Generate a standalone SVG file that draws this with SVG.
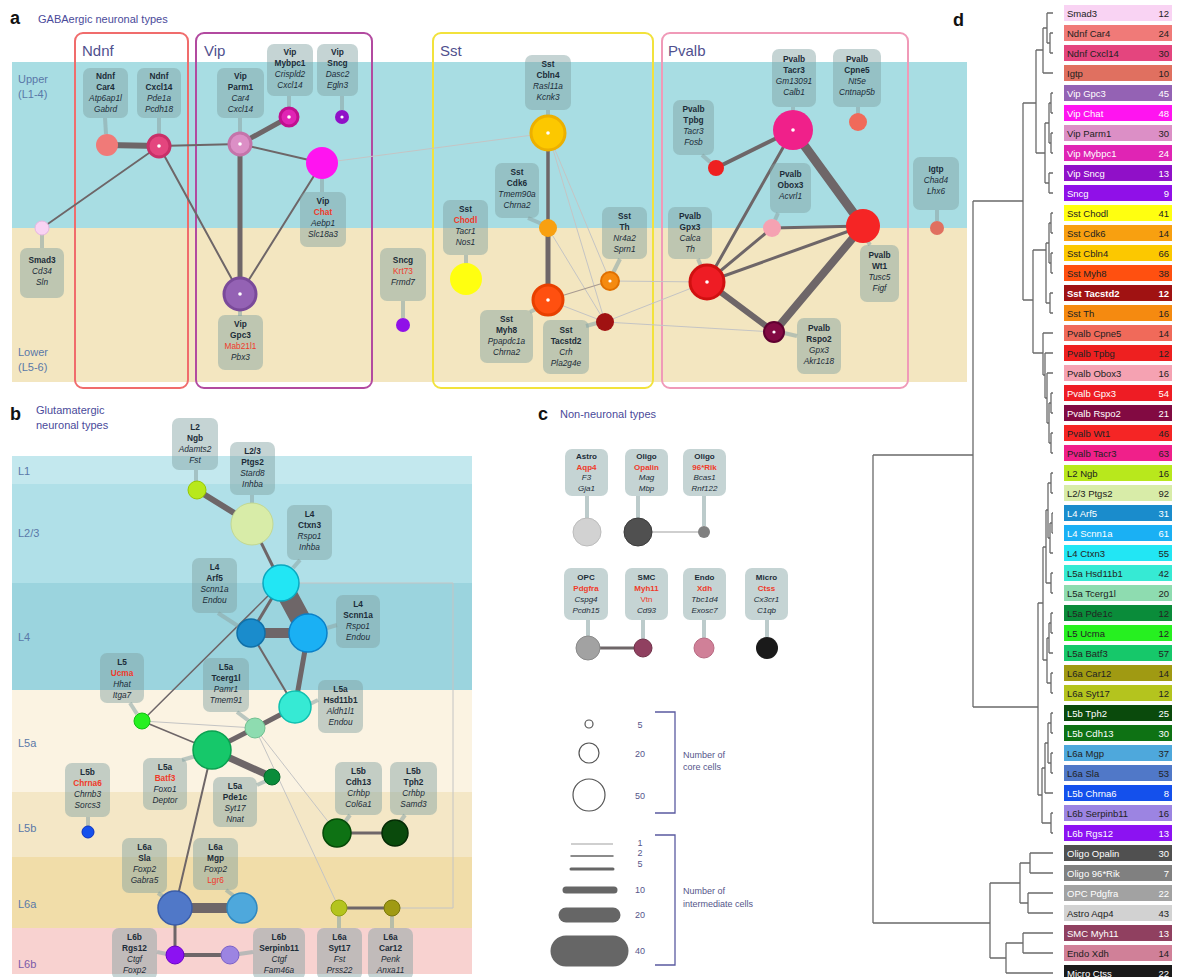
<svg xmlns="http://www.w3.org/2000/svg" width="1186" height="977" viewBox="0 0 1186 977">
<style>
text{font-family:"Liberation Sans",Arial,sans-serif}
.pl{font-size:18px;font-weight:bold;fill:#111}
.ti{font-size:11px;fill:#4a4a9a}
.gt{font-size:15px;fill:#50508e}
.ly{font-size:11px;fill:#5a78a8}
.lb{fill:#7f9fa0;fill-opacity:.45}
.st{stroke:#8fa8a8;stroke-opacity:.6;stroke-width:4;fill:none}
.t{font-size:8.3px;fill:#1c2c38;text-anchor:middle}
.tc{font-size:8px}
.b{font-weight:bold}
.i{font-style:italic}
.r{fill:#f03a2a;font-style:normal}
.e{stroke:#6e6668;fill:none;stroke-linecap:round}
.f{stroke:#c4c4c4;stroke-width:1;fill:none}
.box{fill:none;stroke-width:2}
.dot{fill:#fff}
.dl{stroke:#6a6a6a;stroke-width:1.3;fill:none}
.bt{font-size:9.5px}
.bn{font-size:9.5px;text-anchor:end}
.w{fill:#fff}
.k{fill:#222}
.lg{font-size:9px;fill:#55558a}
.br{stroke:#5a5aa0;stroke-width:1.3;fill:none}
</style>

<!-- ===== Panel a ===== -->
<g id="panel-a-bg">
<rect x="12" y="62" width="955" height="166" fill="#a8dde3"/>
<rect x="12" y="228" width="955" height="154" fill="#f3e6c0"/>
<text class="pl" x="10" y="24">a</text>
<text class="ti" x="38" y="23">GABAergic neuronal types</text>
<text class="ly" x="18" y="83">Upper</text>
<text class="ly" x="18" y="98">(L1-4)</text>
<text class="ly" x="18" y="356">Lower</text>
<text class="ly" x="18" y="371">(L5-6)</text>
</g>
<g id="group-boxes">
<rect class="box" x="75" y="33" width="113" height="355" rx="8" stroke="#f06c6c"/>
<text class="gt" x="82" y="56">Ndnf</text>
<rect class="box" x="196" y="33" width="176" height="355" rx="8" stroke="#b24aa0"/>
<text class="gt" x="204" y="56">Vip</text>
<rect class="box" x="433" y="33" width="220" height="355" rx="8" stroke="#f2e23c"/>
<text class="gt" x="440" y="56">Sst</text>
<rect class="box" x="662" y="33" width="246" height="355" rx="8" stroke="#f09ab8"/>
<text class="gt" x="668" y="56">Pvalb</text>
</g>

<!-- ===== Panel b background ===== -->
<g id="panel-b-bg">
<rect x="12" y="456" width="460" height="28" fill="#c3e8ee"/>
<rect x="12" y="484" width="460" height="99" fill="#b0e0e8"/>
<rect x="12" y="583" width="460" height="107" fill="#9bd4de"/>
<rect x="12" y="690" width="460" height="102" fill="#fbf3e2"/>
<rect x="12" y="792" width="460" height="65" fill="#f4e7c6"/>
<rect x="12" y="857" width="460" height="71" fill="#f1dda9"/>
<rect x="12" y="928" width="460" height="46" fill="#f8d2d0"/>
<text class="pl" x="10" y="420">b</text>
<text class="ti" x="36" y="414">Glutamatergic</text>
<text class="ti" x="36" y="429">neuronal types</text>
<text class="ly" x="18" y="475">L1</text>
<text class="ly" x="18" y="537">L2/3</text>
<text class="ly" x="18" y="641">L4</text>
<text class="ly" x="18" y="747">L5a</text>
<text class="ly" x="18" y="832">L5b</text>
<text class="ly" x="18" y="908">L6a</text>
<text class="ly" x="18" y="968" style="fill:#7a5aa8">L6b</text>
</g>

<!-- ===== Connectors ===== -->
<g id="connectors">
<line class="f" x1="322" y1="163" x2="548" y2="133"/>
<line class="f" x1="548" y1="133" x2="605" y2="322"/>
<line class="f" x1="548" y1="133" x2="610" y2="281"/>
<line class="f" x1="548" y1="228" x2="605" y2="322"/>
<line class="f" x1="548" y1="300" x2="605" y2="322"/>
<line class="f" x1="610" y1="281" x2="707" y2="282"/>
<line class="f" x1="605" y1="322" x2="707" y2="282"/>
<line class="f" x1="605" y1="322" x2="774" y2="332"/>
<line class="e" x1="548" y1="300" x2="610" y2="281" stroke-width="1.2" style="stroke:#a89a90"/>
<line class="e" x1="107" y1="145" x2="159" y2="146" stroke-width="6"/>
<line class="e" x1="159" y1="146" x2="240" y2="144" stroke-width="2"/>
<line class="e" x1="159" y1="146" x2="42" y2="228" stroke-width="1.8"/>
<line class="e" x1="159" y1="146" x2="240" y2="294" stroke-width="2"/>
<line class="e" x1="240" y1="144" x2="289" y2="117" stroke-width="5"/>
<line class="e" x1="240" y1="144" x2="322" y2="163" stroke-width="2"/>
<line class="e" x1="240" y1="144" x2="240" y2="294" stroke-width="5"/>
<line class="e" x1="322" y1="163" x2="240" y2="294" stroke-width="2"/>
<line class="e" x1="548" y1="133" x2="548" y2="228" stroke-width="3.5"/>
<line class="e" x1="548" y1="228" x2="548" y2="300" stroke-width="5"/>
<line class="e" x1="793" y1="130" x2="716" y2="168" stroke-width="4"/>
<line class="e" x1="793" y1="130" x2="863" y2="226" stroke-width="9"/>
<line class="e" x1="793" y1="130" x2="707" y2="282" stroke-width="3"/>
<line class="e" x1="772" y1="228" x2="863" y2="226" stroke-width="3"/>
<line class="e" x1="772" y1="228" x2="707" y2="282" stroke-width="3"/>
<line class="e" x1="707" y1="282" x2="863" y2="226" stroke-width="3"/>
<line class="e" x1="707" y1="282" x2="774" y2="332" stroke-width="6"/>
<line class="e" x1="863" y1="226" x2="774" y2="332" stroke-width="8"/>
<line class="f" x1="142" y1="721" x2="255" y2="728"/>
<line class="f" x1="255" y1="728" x2="337" y2="833"/>
<line class="f" x1="255" y1="728" x2="339" y2="908"/>
<line class="f" x1="212" y1="750" x2="295" y2="707"/>
<polyline class="f" points="299,583 453,583 453,908 392,908"/>
<line class="e" x1="197" y1="490" x2="252" y2="524" stroke-width="6"/>
<line class="e" x1="252" y1="524" x2="281" y2="583" stroke-width="3"/>
<line class="e" x1="281" y1="583" x2="308" y2="633" stroke-width="20"/>
<line class="e" x1="281" y1="583" x2="251" y2="633" stroke-width="3"/>
<line class="e" x1="251" y1="633" x2="308" y2="633" stroke-width="10"/>
<line class="e" x1="281" y1="583" x2="142" y2="721" stroke-width="1.5"/>
<line class="e" x1="251" y1="633" x2="295" y2="707" stroke-width="2"/>
<line class="e" x1="308" y1="633" x2="295" y2="707" stroke-width="5"/>
<line class="e" x1="295" y1="707" x2="255" y2="728" stroke-width="5"/>
<line class="e" x1="255" y1="728" x2="212" y2="750" stroke-width="5"/>
<line class="e" x1="212" y1="750" x2="272" y2="777" stroke-width="7"/>
<line class="e" x1="142" y1="721" x2="212" y2="750" stroke-width="1.5"/>
<line class="e" x1="212" y1="750" x2="175" y2="908" stroke-width="2"/>
<line class="e" x1="175" y1="908" x2="242" y2="908" stroke-width="10"/>
<line class="e" x1="175" y1="908" x2="175" y2="955" stroke-width="3"/>
<line class="e" x1="175" y1="955" x2="230" y2="955" stroke-width="4"/>
<line class="e" x1="337" y1="833" x2="395" y2="833" stroke-width="3"/>
<line class="e" x1="339" y1="908" x2="392" y2="908" stroke-width="3"/>
<line class="e" x1="638" y1="532" x2="704" y2="532" stroke-width="1.2" style="stroke:#a0a0a0"/>
<line class="e" x1="588" y1="648" x2="643" y2="648" stroke-width="3"/>
</g>

<!-- ===== Panel a nodes ===== -->
<g id="smad3">
<line class="st" x1="42" y1="234" x2="42" y2="248"/>
<rect class="lb" x="20" y="248" width="44" height="50" rx="7"/>
<text class="t" x="42" y="263"><tspan class="b">Smad3</tspan><tspan class="i" x="42" dy="11">Cd34</tspan><tspan class="i" x="42" dy="11">Sln</tspan></text>
<circle cx="42" cy="228" r="7" fill="#f9d3f3" stroke="#e6b6e0"/>
</g>
<g id="ndnf-car4">
<line class="st" x1="105" y1="118" x2="106" y2="134"/>
<rect class="lb" x="83" y="68" width="45" height="50" rx="7"/>
<text class="t" x="105.5" y="79"><tspan class="b">Ndnf</tspan><tspan class="b" x="105.5" dy="11">Car4</tspan><tspan class="i" x="105.5" dy="11">Atp6ap1l</tspan><tspan class="i" x="105.5" dy="11">Gabrd</tspan></text>
<circle cx="107" cy="145" r="11" fill="#f07a78"/>
</g>
<g id="ndnf-cxcl14">
<line class="st" x1="159" y1="118" x2="159" y2="134"/>
<rect class="lb" x="137" y="68" width="44" height="50" rx="7"/>
<text class="t" x="159" y="79"><tspan class="b">Ndnf</tspan><tspan class="b" x="159" dy="11">Cxcl14</tspan><tspan class="i" x="159" dy="11">Pde1a</tspan><tspan class="i" x="159" dy="11">Pcdh18</tspan></text>
<circle cx="159" cy="146" r="11" fill="#e4457e" stroke="#c83068" stroke-width="3"/>
<circle class="dot" cx="159" cy="146" r="1.8"/>
</g>
<g id="vip-parm1">
<line class="st" x1="240" y1="118" x2="240" y2="132"/>
<rect class="lb" x="217" y="68" width="47" height="50" rx="7"/>
<text class="t" x="240.5" y="79"><tspan class="b">Vip</tspan><tspan class="b" x="240.5" dy="11">Parm1</tspan><tspan class="i" x="240.5" dy="11">Car4</tspan><tspan class="i" x="240.5" dy="11">Cxcl14</tspan></text>
<circle cx="240" cy="144" r="11" fill="#dc8fc6" stroke="#c474aa" stroke-width="3"/>
<circle class="dot" cx="240" cy="144" r="1.8"/>
</g>
<g id="vip-mybpc1">
<line class="st" x1="289" y1="96" x2="289" y2="108"/>
<rect class="lb" x="267" y="44" width="46" height="52" rx="7"/>
<text class="t" x="290" y="55"><tspan class="b">Vip</tspan><tspan class="b" x="290" dy="11">Mybpc1</tspan><tspan class="i" x="290" dy="11">Crispld2</tspan><tspan class="i" x="290" dy="11">Cxcl14</tspan></text>
<circle cx="289" cy="117" r="9" fill="#e024b4" stroke="#c0108f" stroke-width="3"/>
<circle class="dot" cx="289" cy="117" r="1.8"/>
</g>
<g id="vip-sncg">
<line class="st" x1="342" y1="96" x2="342" y2="110"/>
<rect class="lb" x="317" y="44" width="41" height="52" rx="7"/>
<text class="t" x="337.5" y="55"><tspan class="b">Vip</tspan><tspan class="b" x="337.5" dy="11">Sncg</tspan><tspan class="i" x="337.5" dy="11">Dasc2</tspan><tspan class="i" x="337.5" dy="11">Egln3</tspan></text>
<circle cx="342" cy="117" r="7" fill="#9010c8"/>
<circle class="dot" cx="342" cy="117" r="1.6"/>
</g>
<g id="vip-chat">
<line class="st" x1="322" y1="179" x2="322" y2="192"/>
<rect class="lb" x="300" y="192" width="46" height="55" rx="7"/>
<text class="t" x="323" y="204"><tspan class="b">Vip</tspan><tspan class="r b" x="323" dy="11">Chat</tspan><tspan class="i" x="323" dy="11">Aebp1</tspan><tspan class="i" x="323" dy="11">Slc18a3</tspan></text>
<circle cx="322" cy="163" r="16" fill="#ff14f0"/>
</g>
<g id="vip-gpc3">
<line class="st" x1="240" y1="310" x2="240" y2="316"/>
<rect class="lb" x="218" y="315" width="45" height="55" rx="7"/>
<text class="t" x="240.5" y="327"><tspan class="b">Vip</tspan><tspan class="b" x="240.5" dy="11">Gpc3</tspan><tspan class="r i" x="240.5" dy="11">Mab21l1</tspan><tspan class="i" x="240.5" dy="11">Pbx3</tspan></text>
<circle cx="240" cy="294" r="16" fill="#9462b4" stroke="#7a4a9a" stroke-width="3"/>
<circle class="dot" cx="240" cy="294" r="1.8"/>
</g>
<g id="sncg">
<line class="st" x1="403" y1="301" x2="403" y2="318"/>
<rect class="lb" x="380" y="248" width="46" height="53" rx="7"/>
<text class="t" x="403" y="263"><tspan class="b">Sncg</tspan><tspan class="r i" x="403" dy="11">Krt73</tspan><tspan class="i" x="403" dy="11">Frmd7</tspan></text>
<circle cx="403" cy="325" r="7" fill="#9010e8"/>
</g>
<g id="sst-cbln4">
<line class="st" x1="548" y1="110" x2="548" y2="116"/>
<rect class="lb" x="525" y="55" width="46" height="55" rx="7"/>
<text class="t" x="548" y="67"><tspan class="b">Sst</tspan><tspan class="b" x="548" dy="11">Cbln4</tspan><tspan class="i" x="548" dy="11">Rasl11a</tspan><tspan class="i" x="548" dy="11">Kcnk3</tspan></text>
<circle cx="548" cy="133" r="17" fill="#fcc800" stroke="#ecb000" stroke-width="3"/>
<circle class="dot" cx="548" cy="133" r="1.8"/>
</g>
<g id="sst-cdk6">
<line class="st" x1="528" y1="218" x2="542" y2="224"/>
<rect class="lb" x="495" y="163" width="44" height="55" rx="7"/>
<text class="t" x="517" y="175"><tspan class="b">Sst</tspan><tspan class="b" x="517" dy="11">Cdk6</tspan><tspan class="i" x="517" dy="11">Tmem90a</tspan><tspan class="i" x="517" dy="11">Chrna2</tspan></text>
<circle cx="548" cy="228" r="9" fill="#f8a010"/>
</g>
<g id="sst-chodl">
<line class="st" x1="466" y1="255" x2="466" y2="264"/>
<rect class="lb" x="443" y="200" width="45" height="55" rx="7"/>
<text class="t" x="465.5" y="212"><tspan class="b">Sst</tspan><tspan class="r b" x="465.5" dy="11">Chodl</tspan><tspan class="i" x="465.5" dy="11">Tacr1</tspan><tspan class="i" x="465.5" dy="11">Nos1</tspan></text>
<circle cx="466" cy="279" r="16" fill="#ffff10"/>
</g>
<g id="sst-th">
<line class="st" x1="620" y1="259" x2="613" y2="273"/>
<rect class="lb" x="602" y="207" width="45" height="52" rx="7"/>
<text class="t" x="624.5" y="219"><tspan class="b">Sst</tspan><tspan class="b" x="624.5" dy="11">Th</tspan><tspan class="i" x="624.5" dy="11">Nr4a2</tspan><tspan class="i" x="624.5" dy="11">Sprn1</tspan></text>
<circle cx="610" cy="281" r="9" fill="#f58a10" stroke="#e07000" stroke-width="2"/>
<circle class="dot" cx="610" cy="281" r="1.6"/>
</g>
<g id="sst-myh8">
<line class="st" x1="530" y1="312" x2="538" y2="308"/>
<rect class="lb" x="480" y="310" width="53" height="53" rx="7"/>
<text class="t" x="506.5" y="322"><tspan class="b">Sst</tspan><tspan class="b" x="506.5" dy="11">Myh8</tspan><tspan class="i" x="506.5" dy="11">Ppapdc1a</tspan><tspan class="i" x="506.5" dy="11">Chrna2</tspan></text>
<circle cx="548" cy="300" r="15" fill="#ff5010" stroke="#e84000" stroke-width="3"/>
<circle class="dot" cx="548" cy="300" r="1.8"/>
</g>
<g id="sst-tacstd2">
<line class="st" x1="586" y1="326" x2="597" y2="323"/>
<rect class="lb" x="543" y="320" width="46" height="54" rx="7"/>
<text class="t" x="566" y="333"><tspan class="b">Sst</tspan><tspan class="b" x="566" dy="11">Tacstd2</tspan><tspan class="i" x="566" dy="11">Crh</tspan><tspan class="i" x="566" dy="11">Pla2g4e</tspan></text>
<circle cx="605" cy="322" r="9" fill="#a01212"/>
</g>
<g id="pvalb-tacr3">
<line class="st" x1="793" y1="107" x2="793" y2="112"/>
<rect class="lb" x="772" y="49" width="44" height="58" rx="7"/>
<text class="t" x="794" y="62"><tspan class="b">Pvalb</tspan><tspan class="b" x="794" dy="11">Tacr3</tspan><tspan class="i" x="794" dy="11">Gm13091</tspan><tspan class="i" x="794" dy="11">Calb1</tspan></text>
<circle cx="793" cy="130" r="20" fill="#f0208a"/>
<circle class="dot" cx="793" cy="130" r="1.8"/>
</g>
<g id="pvalb-cpne5">
<line class="st" x1="858" y1="107" x2="858" y2="114"/>
<rect class="lb" x="833" y="49" width="48" height="58" rx="7"/>
<text class="t" x="857" y="62"><tspan class="b">Pvalb</tspan><tspan class="b" x="857" dy="11">Cpne5</tspan><tspan class="i" x="857" dy="11">Nt5e</tspan><tspan class="i" x="857" dy="11">Cntnap5b</tspan></text>
<circle cx="858" cy="122" r="9" fill="#f06a5a"/>
</g>
<g id="pvalb-tpbg">
<line class="st" x1="702" y1="155" x2="710" y2="162"/>
<rect class="lb" x="673" y="100" width="41" height="55" rx="7"/>
<text class="t" x="693.5" y="112"><tspan class="b">Pvalb</tspan><tspan class="b" x="693.5" dy="11">Tpbg</tspan><tspan class="i" x="693.5" dy="11">Tacr3</tspan><tspan class="i" x="693.5" dy="11">Fosb</tspan></text>
<circle cx="716" cy="168" r="8" fill="#ee2020"/>
</g>
<g id="pvalb-obox3">
<line class="st" x1="778" y1="213" x2="775" y2="220"/>
<rect class="lb" x="770" y="163" width="41" height="50" rx="7"/>
<text class="t" x="790.5" y="177"><tspan class="b">Pvalb</tspan><tspan class="b" x="790.5" dy="11">Obox3</tspan><tspan class="i" x="790.5" dy="11">Acvrl1</tspan></text>
<circle cx="772" cy="228" r="9" fill="#f5a2b2"/>
</g>
<g id="pvalb-gpx3">
<line class="st" x1="698" y1="259" x2="701" y2="266"/>
<rect class="lb" x="668" y="207" width="44" height="52" rx="7"/>
<text class="t" x="690" y="219"><tspan class="b">Pvalb</tspan><tspan class="b" x="690" dy="11">Gpx3</tspan><tspan class="i" x="690" dy="11">Calca</tspan><tspan class="i" x="690" dy="11">Th</tspan></text>
<circle cx="707" cy="282" r="17" fill="#ee1c24" stroke="#d01010" stroke-width="3"/>
<circle class="dot" cx="707" cy="282" r="1.8"/>
</g>
<g id="pvalb-wt1">
<line class="st" x1="870" y1="245" x2="867" y2="240"/>
<rect class="lb" x="860" y="245" width="39" height="57" rx="7"/>
<text class="t" x="879.5" y="258"><tspan class="b">Pvalb</tspan><tspan class="b" x="879.5" dy="11">Wt1</tspan><tspan class="i" x="879.5" dy="11">Tusc5</tspan><tspan class="i" x="879.5" dy="11">Figf</tspan></text>
<circle cx="863" cy="226" r="17" fill="#f52525"/>
</g>
<g id="pvalb-rspo2">
<line class="st" x1="797" y1="336" x2="784" y2="333"/>
<rect class="lb" x="797" y="318" width="44" height="56" rx="7"/>
<text class="t" x="819" y="331"><tspan class="b">Pvalb</tspan><tspan class="b" x="819" dy="11">Rspo2</tspan><tspan class="i" x="819" dy="11">Gpx3</tspan><tspan class="i" x="819" dy="11">Akr1c18</tspan></text>
<circle cx="774" cy="332" r="10" fill="#820a42" stroke="#600030" stroke-width="2"/>
<circle class="dot" cx="774" cy="332" r="1.6"/>
</g>
<g id="igtp">
<line class="st" x1="937" y1="210" x2="937" y2="221"/>
<rect class="lb" x="913" y="157" width="46" height="53" rx="7"/>
<text class="t" x="936" y="172"><tspan class="b">Igtp</tspan><tspan class="i" x="936" dy="11">Chad4</tspan><tspan class="i" x="936" dy="11">Lhx6</tspan></text>
<circle cx="937" cy="228" r="7" fill="#e07060"/>
</g>

<!-- ===== Panel b nodes ===== -->
<g id="l2-ngb">
<line class="st" x1="196" y1="470" x2="196" y2="482"/>
<rect class="lb" x="172" y="418" width="46" height="52" rx="7"/>
<text class="t" x="195" y="430"><tspan class="b">L2</tspan><tspan class="b" x="195" dy="11">Ngb</tspan><tspan class="i" x="195" dy="11">Adamts2</tspan><tspan class="i" x="195" dy="11">Fst</tspan></text>
<circle cx="197" cy="490" r="9" fill="#b8e81c" stroke="#98c800"/>
</g>
<g id="l23-ptgs2">
<line class="st" x1="252" y1="495" x2="252" y2="503"/>
<rect class="lb" x="230" y="442" width="45" height="53" rx="7"/>
<text class="t" x="252.5" y="454"><tspan class="b">L2/3</tspan><tspan class="b" x="252.5" dy="11">Ptgs2</tspan><tspan class="i" x="252.5" dy="11">Stard8</tspan><tspan class="i" x="252.5" dy="11">Inhba</tspan></text>
<circle cx="252" cy="524" r="21" fill="#d8eca8" stroke="#c2d892"/>
</g>
<g id="l4-ctxn3">
<line class="st" x1="300" y1="560" x2="293" y2="568"/>
<rect class="lb" x="287" y="505" width="45" height="55" rx="7"/>
<text class="t" x="309.5" y="517"><tspan class="b">L4</tspan><tspan class="b" x="309.5" dy="11">Ctxn3</tspan><tspan class="i" x="309.5" dy="11">Rspo1</tspan><tspan class="i" x="309.5" dy="11">Inhba</tspan></text>
<circle cx="281" cy="583" r="18" fill="#22e6f4" stroke="#0aa8c0" stroke-width="1.5"/>
</g>
<g id="l4-arf5">
<line class="st" x1="218" y1="613" x2="238" y2="626"/>
<rect class="lb" x="192" y="558" width="45" height="55" rx="7"/>
<text class="t" x="214.5" y="570"><tspan class="b">L4</tspan><tspan class="b" x="214.5" dy="11">Arf5</tspan><tspan class="i" x="214.5" dy="11">Scnn1a</tspan><tspan class="i" x="214.5" dy="11">Endou</tspan></text>
<circle cx="251" cy="633" r="14" fill="#1a8ccc" stroke="#1070a8" stroke-width="1.5"/>
</g>
<g id="l4-scnn1a">
<line class="st" x1="337" y1="625" x2="327" y2="628"/>
<rect class="lb" x="336" y="595" width="44" height="53" rx="7"/>
<text class="t" x="358" y="607"><tspan class="b">L4</tspan><tspan class="b" x="358" dy="11">Scnn1a</tspan><tspan class="i" x="358" dy="11">Rspo1</tspan><tspan class="i" x="358" dy="11">Endou</tspan></text>
<circle cx="308" cy="633" r="19" fill="#1ab0f4" stroke="#0a80c8" stroke-width="1.5"/>
</g>
<g id="l5-ucma">
<line class="st" x1="130" y1="703" x2="137" y2="714"/>
<rect class="lb" x="100" y="653" width="44" height="50" rx="7"/>
<text class="t" x="122" y="665"><tspan class="b">L5</tspan><tspan class="r b" x="122" dy="11">Ucma</tspan><tspan class="i" x="122" dy="11">Hhat</tspan><tspan class="i" x="122" dy="11">Itga7</tspan></text>
<circle cx="142" cy="721" r="8" fill="#26f020" stroke="#10c010"/>
</g>
<g id="l5a-tcerg1l">
<line class="st" x1="237" y1="712" x2="249" y2="721"/>
<rect class="lb" x="203" y="658" width="46" height="54" rx="7"/>
<text class="t" x="226" y="670"><tspan class="b">L5a</tspan><tspan class="b" x="226" dy="11">Tcerg1l</tspan><tspan class="i" x="226" dy="11">Pamr1</tspan><tspan class="i" x="226" dy="11">Tmem91</tspan></text>
<circle cx="255" cy="728" r="10" fill="#8edcb0" stroke="#70c090"/>
</g>
<g id="l5a-hsd11b1">
<line class="st" x1="318" y1="700" x2="310" y2="704"/>
<rect class="lb" x="318" y="680" width="45" height="53" rx="7"/>
<text class="t" x="340.5" y="692"><tspan class="b">L5a</tspan><tspan class="b" x="340.5" dy="11">Hsd11b1</tspan><tspan class="i" x="340.5" dy="11">Aldh1l1</tspan><tspan class="i" x="340.5" dy="11">Endou</tspan></text>
<circle cx="295" cy="707" r="16" fill="#36ead4" stroke="#10c0b0" stroke-width="1.5"/>
</g>
<g id="l5a-batf3">
<line class="st" x1="182" y1="760" x2="196" y2="756"/>
<rect class="lb" x="143" y="758" width="44" height="52" rx="7"/>
<text class="t" x="165" y="770"><tspan class="b">L5a</tspan><tspan class="r b" x="165" dy="11">Batf3</tspan><tspan class="i" x="165" dy="11">Foxo1</tspan><tspan class="i" x="165" dy="11">Deptor</tspan></text>
<circle cx="212" cy="750" r="19" fill="#16c86a" stroke="#0aa050" stroke-width="1.5"/>
</g>
<g id="l5a-pde1c">
<line class="st" x1="257" y1="785" x2="266" y2="781"/>
<rect class="lb" x="213" y="777" width="44" height="50" rx="7"/>
<text class="t" x="235" y="789"><tspan class="b">L5a</tspan><tspan class="b" x="235" dy="11">Pde1c</tspan><tspan class="i" x="235" dy="11">Syt17</tspan><tspan class="i" x="235" dy="11">Nnat</tspan></text>
<circle cx="272" cy="777" r="8" fill="#0a8c3a" stroke="#066a2a"/>
</g>
<g id="l5b-chrna6">
<line class="st" x1="88" y1="817" x2="88" y2="826"/>
<rect class="lb" x="65" y="763" width="45" height="54" rx="7"/>
<text class="t" x="87.5" y="775"><tspan class="b">L5b</tspan><tspan class="r b" x="87.5" dy="11">Chrna6</tspan><tspan class="i" x="87.5" dy="11">Chrnb3</tspan><tspan class="i" x="87.5" dy="11">Sorcs3</tspan></text>
<circle cx="88" cy="832" r="6" fill="#1450ec" stroke="#0a30c0"/>
</g>
<g id="l5b-cdh13">
<line class="st" x1="350" y1="815" x2="345" y2="822"/>
<rect class="lb" x="335" y="762" width="47" height="53" rx="7"/>
<text class="t" x="358.5" y="774"><tspan class="b">L5b</tspan><tspan class="b" x="358.5" dy="11">Cdh13</tspan><tspan class="i" x="358.5" dy="11">Crhbp</tspan><tspan class="i" x="358.5" dy="11">Col6a1</tspan></text>
<circle cx="337" cy="833" r="14" fill="#0e7214" stroke="#064a08" stroke-width="1.5"/>
</g>
<g id="l5b-tph2">
<line class="st" x1="405" y1="815" x2="400" y2="822"/>
<rect class="lb" x="390" y="762" width="47" height="53" rx="7"/>
<text class="t" x="413.5" y="774"><tspan class="b">L5b</tspan><tspan class="b" x="413.5" dy="11">Tph2</tspan><tspan class="i" x="413.5" dy="11">Crhbp</tspan><tspan class="i" x="413.5" dy="11">Samd3</tspan></text>
<circle cx="395" cy="833" r="13" fill="#0a4a0c" stroke="#052a05" stroke-width="1.5"/>
</g>
<g id="l6a-sla">
<line class="st" x1="158" y1="893" x2="164" y2="897"/>
<rect class="lb" x="122" y="838" width="45" height="55" rx="7"/>
<text class="t" x="144.5" y="850"><tspan class="b">L6a</tspan><tspan class="b" x="144.5" dy="11">Sla</tspan><tspan class="i" x="144.5" dy="11">Foxp2</tspan><tspan class="i" x="144.5" dy="11">Gabra5</tspan></text>
<circle cx="175" cy="908" r="17" fill="#5078c8" stroke="#3a5ca8" stroke-width="1.5"/>
</g>
<g id="l6a-mgp">
<line class="st" x1="226" y1="890" x2="234" y2="896"/>
<rect class="lb" x="193" y="838" width="45" height="52" rx="7"/>
<text class="t" x="215.5" y="850"><tspan class="b">L6a</tspan><tspan class="b" x="215.5" dy="11">Mgp</tspan><tspan class="i" x="215.5" dy="11">Foxp2</tspan><tspan class="r i" x="215.5" dy="11">Lgr6</tspan></text>
<circle cx="242" cy="908" r="15" fill="#4ea8dc" stroke="#3088c0" stroke-width="1.5"/>
</g>
<g id="l6b-rgs12">
<line class="st" x1="157" y1="952" x2="167" y2="954"/>
<rect class="lb" x="112" y="928" width="45" height="52" rx="7"/>
<text class="t" x="134.5" y="940"><tspan class="b">L6b</tspan><tspan class="b" x="134.5" dy="11">Rgs12</tspan><tspan class="i" x="134.5" dy="11">Ctgf</tspan><tspan class="i" x="134.5" dy="11">Foxp2</tspan></text>
<circle cx="175" cy="955" r="9" fill="#8c12f2" stroke="#6a00c8"/>
</g>
<g id="l6b-serpinb11">
<line class="st" x1="253" y1="952" x2="239" y2="954"/>
<rect class="lb" x="253" y="928" width="52" height="52" rx="7"/>
<text class="t" x="279" y="940"><tspan class="b">L6b</tspan><tspan class="b" x="279" dy="11">Serpinb11</tspan><tspan class="i" x="279" dy="11">Ctgf</tspan><tspan class="i" x="279" dy="11">Fam46a</tspan></text>
<circle cx="230" cy="955" r="9" fill="#9c84e2" stroke="#7a60c8"/>
</g>
<g id="l6a-syt17">
<line class="st" x1="339" y1="916" x2="339" y2="928"/>
<rect class="lb" x="317" y="928" width="45" height="52" rx="7"/>
<text class="t" x="339.5" y="940"><tspan class="b">L6a</tspan><tspan class="b" x="339.5" dy="11">Syt17</tspan><tspan class="i" x="339.5" dy="11">Fst</tspan><tspan class="i" x="339.5" dy="11">Prss22</tspan></text>
<circle cx="339" cy="908" r="8" fill="#b4c41e" stroke="#909e10"/>
</g>
<g id="l6a-car12">
<line class="st" x1="392" y1="916" x2="392" y2="928"/>
<rect class="lb" x="368" y="928" width="45" height="52" rx="7"/>
<text class="t" x="390.5" y="940"><tspan class="b">L6a</tspan><tspan class="b" x="390.5" dy="11">Car12</tspan><tspan class="i" x="390.5" dy="11">Penk</tspan><tspan class="i" x="390.5" dy="11">Anxa11</tspan></text>
<circle cx="392" cy="908" r="8" fill="#a09a12" stroke="#7a760a"/>
</g>

<!-- ===== Panel c ===== -->
<g id="panel-c-title">
<text class="pl" x="538" y="420">c</text>
<text class="ti" x="560" y="418">Non-neuronal types</text>
</g>
<g id="astro-aqp4">
<line class="st" x1="587" y1="496" x2="587" y2="518"/>
<rect class="lb" x="565" y="449" width="43" height="47" rx="7"/>
<text class="t tc" x="586.5" y="459"><tspan class="b">Astro</tspan><tspan class="r b" x="586.5" dy="10.5">Aqp4</tspan><tspan class="i" x="586.5" dy="10.5">F3</tspan><tspan class="i" x="586.5" dy="10.5">Gja1</tspan></text>
<circle cx="587" cy="532" r="14" fill="#d2d2d2" stroke="#bcbcbc"/>
</g>
<g id="oligo-opalin">
<line class="st" x1="638" y1="496" x2="638" y2="518"/>
<rect class="lb" x="625" y="449" width="43" height="47" rx="7"/>
<text class="t tc" x="646.5" y="459"><tspan class="b">Oligo</tspan><tspan class="r b" x="646.5" dy="10.5">Opalin</tspan><tspan class="i" x="646.5" dy="10.5">Mag</tspan><tspan class="i" x="646.5" dy="10.5">Mbp</tspan></text>
<circle cx="638" cy="532" r="14" fill="#505050" stroke="#3a3a3a"/>
</g>
<g id="oligo-96rik">
<line class="st" x1="704" y1="496" x2="704" y2="526"/>
<rect class="lb" x="683" y="449" width="43" height="47" rx="7"/>
<text class="t tc" x="704.5" y="459"><tspan class="b">Oligo</tspan><tspan class="r b" x="704.5" dy="10.5">96*Rik</tspan><tspan class="i" x="704.5" dy="10.5">Bcas1</tspan><tspan class="i" x="704.5" dy="10.5">Rnf122</tspan></text>
<circle cx="704" cy="532" r="6" fill="#808080"/>
</g>
<g id="opc-pdgfra">
<line class="st" x1="588" y1="620" x2="588" y2="636"/>
<rect class="lb" x="564" y="568" width="44" height="52" rx="7"/>
<text class="t tc" x="586" y="580"><tspan class="b">OPC</tspan><tspan class="r b" x="586" dy="11">Pdgfra</tspan><tspan class="i" x="586" dy="11">Cspg4</tspan><tspan class="i" x="586" dy="11">Pcdh15</tspan></text>
<circle cx="588" cy="648" r="12" fill="#a2a2a2" stroke="#8a8a8a"/>
</g>
<g id="smc-myh11">
<line class="st" x1="643" y1="620" x2="643" y2="639"/>
<rect class="lb" x="625" y="568" width="43" height="52" rx="7"/>
<text class="t tc" x="646.5" y="580"><tspan class="b">SMC</tspan><tspan class="r b" x="646.5" dy="11">Myh11</tspan><tspan class="r i" x="646.5" dy="11">Vtn</tspan><tspan class="i" x="646.5" dy="11">Cd93</tspan></text>
<circle cx="643" cy="648" r="9" fill="#904060" stroke="#703048"/>
</g>
<g id="endo-xdh">
<line class="st" x1="704" y1="620" x2="704" y2="638"/>
<rect class="lb" x="683" y="568" width="43" height="52" rx="7"/>
<text class="t tc" x="704.5" y="580"><tspan class="b">Endo</tspan><tspan class="r b" x="704.5" dy="11">Xdh</tspan><tspan class="i" x="704.5" dy="11">Tbc1d4</tspan><tspan class="i" x="704.5" dy="11">Exosc7</tspan></text>
<circle cx="704" cy="648" r="10" fill="#d08098" stroke="#b86a82"/>
</g>
<g id="micro-ctss">
<line class="st" x1="767" y1="620" x2="767" y2="637"/>
<rect class="lb" x="745" y="568" width="43" height="52" rx="7"/>
<text class="t tc" x="766.5" y="580"><tspan class="b">Micro</tspan><tspan class="r b" x="766.5" dy="11">Ctss</tspan><tspan class="i" x="766.5" dy="11">Cx3cr1</tspan><tspan class="i" x="766.5" dy="11">C1qb</tspan></text>
<circle cx="767" cy="648" r="11" fill="#1a1a1a"/>
</g>

<!-- ===== Legend ===== -->
<g id="legend-core">
<circle cx="589" cy="724" r="4" fill="none" stroke="#555" stroke-width="1.2"/>
<circle cx="589" cy="753" r="10" fill="none" stroke="#555" stroke-width="1.2"/>
<circle cx="589" cy="795" r="16" fill="none" stroke="#555" stroke-width="1.2"/>
<text class="lg" x="640" y="728" text-anchor="middle">5</text>
<text class="lg" x="640" y="757" text-anchor="middle">20</text>
<text class="lg" x="640" y="799" text-anchor="middle">50</text>
<path class="br" d="M655,712 H675 V813 H655"/>
<text class="lg" x="683" y="758">Number of</text>
<text class="lg" x="683" y="770">core cells</text>
</g>
<g id="legend-intermediate">
<line x1="571" y1="844" x2="613" y2="844" stroke="#777" stroke-width="0.7"/>
<line x1="571" y1="856" x2="613" y2="856" stroke="#666" stroke-width="1.5" stroke-linecap="round"/>
<line x1="571" y1="869" x2="613" y2="869" stroke="#666" stroke-width="3" stroke-linecap="round"/>
<line x1="566" y1="890" x2="614" y2="890" stroke="#666" stroke-width="7" stroke-linecap="round"/>
<line x1="566" y1="915" x2="613" y2="915" stroke="#666" stroke-width="15" stroke-linecap="round"/>
<line x1="566" y1="951" x2="613" y2="951" stroke="#666" stroke-width="31" stroke-linecap="round"/>
<text class="lg" x="640" y="846" text-anchor="middle">1</text>
<text class="lg" x="640" y="856" text-anchor="middle">2</text>
<text class="lg" x="640" y="867" text-anchor="middle">5</text>
<text class="lg" x="640" y="893" text-anchor="middle">10</text>
<text class="lg" x="640" y="918" text-anchor="middle">20</text>
<text class="lg" x="640" y="954" text-anchor="middle">40</text>
<path class="br" d="M655,835 H675 V965 H655"/>
<text class="lg" x="683" y="894">Number of</text>
<text class="lg" x="683" y="907">intermediate cells</text>
</g>

<!-- ===== Panel d ===== -->
<g id="panel-d-title"><text class="pl" x="953" y="26">d</text></g>
<g id="dendrogram">
<path class="dl" d="
M873,455 V923 M873,455 H973 M873,923 H990
M973,201 V707 M973,201 H1023 M973,707 H1038
M1023,103 V300 M1023,103 H1036 M1023,300 H1033
M1036,50 V153 M1036,50 H1043 M1036,153 H1045
M1043,28 V73 M1043,28 H1047 M1043,73 H1053
M1047,13 V43 M1047,13 H1053 M1047,43 H1050
M1050,33 V53 M1050,33 H1053 M1050,53 H1053
M1045,123 V183 M1045,123 H1049 M1045,183 H1049
M1049,103 V143 M1049,103 H1051 M1049,143 H1051
M1051,93 V113 M1051,93 H1053 M1051,113 H1053
M1051,133 V153 M1051,133 H1053 M1051,153 H1053
M1049,173 V193 M1049,173 H1053 M1049,193 H1053
M1033,250 V353 M1033,250 H1046 M1033,353 H1043
M1046,243 V303 M1046,243 H1049 M1046,303 H1050
M1049,223 V263 M1049,223 H1051 M1049,263 H1051
M1051,213 V233 M1051,213 H1053 M1051,233 H1053
M1051,253 V273 M1051,253 H1053 M1051,273 H1053
M1050,293 V313 M1050,293 H1053 M1050,313 H1053
M1043,333 V375 M1043,333 H1053 M1043,375 H1045
M1045,353 V398 M1045,353 H1053 M1045,398 H1047
M1047,373 V423 M1047,373 H1053 M1047,423 H1049
M1049,403 V443 M1049,403 H1051 M1049,443 H1051
M1051,393 V413 M1051,393 H1053 M1051,413 H1053
M1051,433 V453 M1051,433 H1053 M1051,453 H1053
M1038,603 V795 M1038,603 H1043 M1038,795 H1042
M1043,547 V660 M1043,547 H1046 M1043,660 H1047
M1046,510 V583 M1046,510 H1048 M1046,583 H1051
M1048,483 V538 M1048,483 H1051 M1048,538 H1050
M1051,473 V493 M1051,473 H1053 M1051,493 H1053
M1050,523 V553 M1050,523 H1052 M1050,553 H1053
M1052,513 V533 M1052,513 H1053 M1052,533 H1053
M1051,573 V593 M1051,573 H1053 M1051,593 H1053
M1047,638 V683 M1047,638 H1049 M1047,683 H1051
M1049,623 V653 M1049,623 H1051 M1049,653 H1053
M1051,613 V633 M1051,613 H1053 M1051,633 H1053
M1051,673 V693 M1051,673 H1053 M1051,693 H1053
M1042,768 V823 M1042,768 H1045 M1042,823 H1051
M1045,743 V793 M1045,743 H1048 M1045,793 H1053
M1048,723 V763 M1048,723 H1051 M1048,763 H1051
M1051,713 V733 M1051,713 H1053 M1051,733 H1053
M1051,753 V773 M1051,753 H1053 M1051,773 H1053
M1051,813 V833 M1051,813 H1053 M1051,833 H1053
M990,883 V958 M990,883 H1020 M990,958 H1006
M1020,863 V903 M1020,863 H1030 M1020,903 H1028
M1030,853 V873 M1030,853 H1053 M1030,873 H1053
M1028,893 V913 M1028,893 H1053 M1028,913 H1053
M1006,943 V973 M1006,943 H1023 M1006,973 H1053
M1023,933 V953 M1023,933 H1053 M1023,953 H1053
"/>
</g>
<g id="bars">
<rect x="1064" y="5" width="108" height="16" fill="#f9d3f3"/><text class="bt k" x="1067" y="16.5">Smad3</text><text class="bn k" x="1169" y="16.5">12</text>
<rect x="1064" y="25" width="108" height="16" fill="#f07a78"/><text class="bt k" x="1067" y="36.5">Ndnf Car4</text><text class="bn k" x="1169" y="36.5">24</text>
<rect x="1064" y="45" width="108" height="16" fill="#e4457e"/><text class="bt k" x="1067" y="56.5">Ndnf Cxcl14</text><text class="bn k" x="1169" y="56.5">30</text>
<rect x="1064" y="65" width="108" height="16" fill="#e07060"/><text class="bt k" x="1067" y="76.5">Igtp</text><text class="bn k" x="1169" y="76.5">10</text>
<rect x="1064" y="85" width="108" height="16" fill="#9462b4"/><text class="bt w" x="1067" y="96.5">Vip Gpc3</text><text class="bn w" x="1169" y="96.5">45</text>
<rect x="1064" y="105" width="108" height="16" fill="#ff14f0"/><text class="bt w" x="1067" y="116.5">Vip Chat</text><text class="bn w" x="1169" y="116.5">48</text>
<rect x="1064" y="125" width="108" height="16" fill="#dc8fc6"/><text class="bt k" x="1067" y="136.5">Vip Parm1</text><text class="bn k" x="1169" y="136.5">30</text>
<rect x="1064" y="145" width="108" height="16" fill="#e024b4"/><text class="bt w" x="1067" y="156.5">Vip Mybpc1</text><text class="bn w" x="1169" y="156.5">24</text>
<rect x="1064" y="165" width="108" height="16" fill="#9010c8"/><text class="bt w" x="1067" y="176.5">Vip Sncg</text><text class="bn w" x="1169" y="176.5">13</text>
<rect x="1064" y="185" width="108" height="16" fill="#9010e8"/><text class="bt w" x="1067" y="196.5">Sncg</text><text class="bn w" x="1169" y="196.5">9</text>
<rect x="1064" y="205" width="108" height="16" fill="#ffff10"/><text class="bt k" x="1067" y="216.5">Sst Chodl</text><text class="bn k" x="1169" y="216.5">41</text>
<rect x="1064" y="225" width="108" height="16" fill="#f8a010"/><text class="bt k" x="1067" y="236.5">Sst Cdk6</text><text class="bn k" x="1169" y="236.5">14</text>
<rect x="1064" y="245" width="108" height="16" fill="#fcc800"/><text class="bt k" x="1067" y="256.5">Sst Cbln4</text><text class="bn k" x="1169" y="256.5">66</text>
<rect x="1064" y="265" width="108" height="16" fill="#ff5010"/><text class="bt k" x="1067" y="276.5">Sst Myh8</text><text class="bn k" x="1169" y="276.5">38</text>
<rect x="1064" y="285" width="108" height="16" fill="#a01212"/><text class="bt w b" x="1067" y="296.5">Sst Tacstd2</text><text class="bn w b" x="1169" y="296.5">12</text>
<rect x="1064" y="305" width="108" height="16" fill="#f58a10"/><text class="bt k" x="1067" y="316.5">Sst Th</text><text class="bn k" x="1169" y="316.5">16</text>
<rect x="1064" y="325" width="108" height="16" fill="#f06a5a"/><text class="bt k" x="1067" y="336.5">Pvalb Cpne5</text><text class="bn k" x="1169" y="336.5">14</text>
<rect x="1064" y="345" width="108" height="16" fill="#ee2020"/><text class="bt k" x="1067" y="356.5">Pvalb Tpbg</text><text class="bn k" x="1169" y="356.5">12</text>
<rect x="1064" y="365" width="108" height="16" fill="#f5a2b2"/><text class="bt k" x="1067" y="376.5">Pvalb Obox3</text><text class="bn k" x="1169" y="376.5">16</text>
<rect x="1064" y="385" width="108" height="16" fill="#ee1c24"/><text class="bt w" x="1067" y="396.5">Pvalb Gpx3</text><text class="bn w" x="1169" y="396.5">54</text>
<rect x="1064" y="405" width="108" height="16" fill="#820a42"/><text class="bt w" x="1067" y="416.5">Pvalb Rspo2</text><text class="bn w" x="1169" y="416.5">21</text>
<rect x="1064" y="425" width="108" height="16" fill="#f52525"/><text class="bt k" x="1067" y="436.5">Pvalb Wt1</text><text class="bn k" x="1169" y="436.5">46</text>
<rect x="1064" y="445" width="108" height="16" fill="#f0208a"/><text class="bt k" x="1067" y="456.5">Pvalb Tacr3</text><text class="bn k" x="1169" y="456.5">63</text>
<rect x="1064" y="465" width="108" height="16" fill="#b8e81c"/><text class="bt k" x="1067" y="476.5">L2 Ngb</text><text class="bn k" x="1169" y="476.5">16</text>
<rect x="1064" y="485" width="108" height="16" fill="#d8eca8"/><text class="bt k" x="1067" y="496.5">L2/3 Ptgs2</text><text class="bn k" x="1169" y="496.5">92</text>
<rect x="1064" y="505" width="108" height="16" fill="#1a8ccc"/><text class="bt w" x="1067" y="516.5">L4 Arf5</text><text class="bn w" x="1169" y="516.5">31</text>
<rect x="1064" y="525" width="108" height="16" fill="#1ab0f4"/><text class="bt w" x="1067" y="536.5">L4 Scnn1a</text><text class="bn w" x="1169" y="536.5">61</text>
<rect x="1064" y="545" width="108" height="16" fill="#22e6f4"/><text class="bt k" x="1067" y="556.5">L4 Ctxn3</text><text class="bn k" x="1169" y="556.5">55</text>
<rect x="1064" y="565" width="108" height="16" fill="#36ead4"/><text class="bt k" x="1067" y="576.5">L5a Hsd11b1</text><text class="bn k" x="1169" y="576.5">42</text>
<rect x="1064" y="585" width="108" height="16" fill="#8edcb0"/><text class="bt k" x="1067" y="596.5">L5a Tcerg1l</text><text class="bn k" x="1169" y="596.5">20</text>
<rect x="1064" y="605" width="108" height="16" fill="#0a8c3a"/><text class="bt k" x="1067" y="616.5">L5a Pde1c</text><text class="bn k" x="1169" y="616.5">12</text>
<rect x="1064" y="625" width="108" height="16" fill="#26f020"/><text class="bt k" x="1067" y="636.5">L5 Ucma</text><text class="bn k" x="1169" y="636.5">12</text>
<rect x="1064" y="645" width="108" height="16" fill="#16c86a"/><text class="bt k" x="1067" y="656.5">L5a Batf3</text><text class="bn k" x="1169" y="656.5">57</text>
<rect x="1064" y="665" width="108" height="16" fill="#a09a12"/><text class="bt k" x="1067" y="676.5">L6a Car12</text><text class="bn k" x="1169" y="676.5">14</text>
<rect x="1064" y="685" width="108" height="16" fill="#b4c41e"/><text class="bt k" x="1067" y="696.5">L6a Syt17</text><text class="bn k" x="1169" y="696.5">12</text>
<rect x="1064" y="705" width="108" height="16" fill="#0a4a0c"/><text class="bt w" x="1067" y="716.5">L5b Tph2</text><text class="bn w" x="1169" y="716.5">25</text>
<rect x="1064" y="725" width="108" height="16" fill="#0e7214"/><text class="bt w" x="1067" y="736.5">L5b Cdh13</text><text class="bn w" x="1169" y="736.5">30</text>
<rect x="1064" y="745" width="108" height="16" fill="#4ea8dc"/><text class="bt k" x="1067" y="756.5">L6a Mgp</text><text class="bn k" x="1169" y="756.5">37</text>
<rect x="1064" y="765" width="108" height="16" fill="#5078c8"/><text class="bt k" x="1067" y="776.5">L6a Sla</text><text class="bn k" x="1169" y="776.5">53</text>
<rect x="1064" y="785" width="108" height="16" fill="#1450ec"/><text class="bt w" x="1067" y="796.5">L5b Chrna6</text><text class="bn w" x="1169" y="796.5">8</text>
<rect x="1064" y="805" width="108" height="16" fill="#9c84e2"/><text class="bt k" x="1067" y="816.5">L6b Serpinb11</text><text class="bn k" x="1169" y="816.5">16</text>
<rect x="1064" y="825" width="108" height="16" fill="#8c12f2"/><text class="bt w" x="1067" y="836.5">L6b Rgs12</text><text class="bn w" x="1169" y="836.5">13</text>
<rect x="1064" y="845" width="108" height="16" fill="#505050"/><text class="bt w" x="1067" y="856.5">Oligo Opalin</text><text class="bn w" x="1169" y="856.5">30</text>
<rect x="1064" y="865" width="108" height="16" fill="#808080"/><text class="bt w" x="1067" y="876.5">Oligo 96*Rik</text><text class="bn w" x="1169" y="876.5">7</text>
<rect x="1064" y="885" width="108" height="16" fill="#a2a2a2"/><text class="bt w" x="1067" y="896.5">OPC Pdgfra</text><text class="bn w" x="1169" y="896.5">22</text>
<rect x="1064" y="905" width="108" height="16" fill="#d2d2d2"/><text class="bt k" x="1067" y="916.5">Astro Aqp4</text><text class="bn k" x="1169" y="916.5">43</text>
<rect x="1064" y="925" width="108" height="16" fill="#904060"/><text class="bt w" x="1067" y="936.5">SMC Myh11</text><text class="bn w" x="1169" y="936.5">13</text>
<rect x="1064" y="945" width="108" height="16" fill="#d08098"/><text class="bt k" x="1067" y="956.5">Endo Xdh</text><text class="bn k" x="1169" y="956.5">14</text>
<rect x="1064" y="965" width="108" height="16" fill="#1a1a1a"/><text class="bt w" x="1067" y="976.5">Micro Ctss</text><text class="bn w" x="1169" y="976.5">22</text>
</g>
</svg>
